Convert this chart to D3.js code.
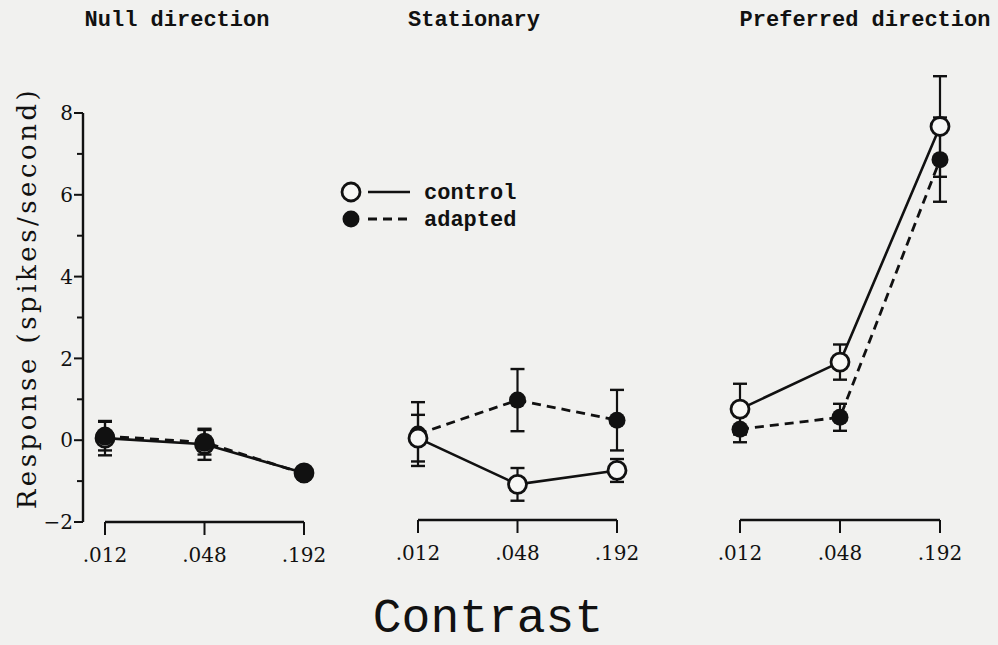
<!DOCTYPE html>
<html lang="en">
<head>
  <meta charset="UTF-8">
  <title>Response vs contrast</title>
  <script src="https://d3js.org/d3.v7.min.js"></script>
  <style>
    body { margin: 0; padding: 0; background: #f1f1ef; }
    svg { display: block; }
  </style>
</head>
<body>
  <svg id="chart" width="998" height="645"></svg>
  <script>
    // ---- data ----
    const contrasts = [0.012, 0.048, 0.192];
    const tickLabels = [".012", ".048", ".192"];
    const panelTitles = ["Null direction", "Stationary", "Preferred direction"];

    // mean response, spikes/second, one row per panel
    const controlMean = [
      [0.05, -0.1, -0.8],
      [0.05, -1.08, -0.74],
      [0.76, 1.91, 7.67]
    ];
    const controlErr = [
      [0.42, 0.38, 0.12],
      [0.57, 0.4, 0.28],
      [0.62, 0.43, 1.23]
    ];
    const adaptedMean = [
      [0.1, -0.05, -0.82],
      [0.15, 0.98, 0.49],
      [0.27, 0.56, 6.86]
    ];
    const adaptedErr = [
      [0.35, 0.3, 0.12],
      [0.78, 0.76, 0.74],
      [0.32, 0.33, 1.03]
    ];

    const svg = d3.select("#chart");
    const ink = "#111";
    const paper = "#f7f7f5";

    // shared y scale
    const y = d3.scaleLinear().domain([-2, 8]).range([522, 113]);

    // one log x scale per panel
    const panelRanges = [[105, 304], [418, 617], [740, 940]];
    const axisY = [522, 520, 520];
    const titleX = [177, 474, 865];

    // y axis
    const yAxis = svg.append("g").attr("transform", "translate(83,0)");
    yAxis.append("line")
      .attr("x1", 0).attr("x2", 0)
      .attr("y1", y(8)).attr("y2", y(-2))
      .attr("stroke", ink).attr("stroke-width", 2.4);
    const yTicks = d3.range(-2, 9);
    yAxis.selectAll(".ytick").data(yTicks).join("line")
      .attr("x1", d => d % 2 === 0 ? -9 : -6).attr("x2", 0)
      .attr("y1", d => y(d)).attr("y2", d => y(d))
      .attr("stroke", ink).attr("stroke-width", 2);
    yAxis.selectAll(".ylab").data(yTicks.filter(d => d % 2 === 0)).join("text")
      .attr("x", -10).attr("y", d => y(d)).attr("dy", "0.36em")
      .attr("text-anchor", "end")
      .attr("font-family", "DejaVu Serif").attr("font-size", 20)
      .attr("fill", ink)
      .text(d => d < 0 ? "\u2212" + Math.abs(d) : d);

    svg.append("text")
      .attr("transform", "translate(36,298) rotate(-90)")
      .attr("text-anchor", "middle")
      .attr("font-family", "DejaVu Serif").attr("font-size", 26)
      .attr("letter-spacing", 3.5)
      .attr("fill", ink)
      .text("Response (spikes/second)");

    panelTitles.forEach((title, p) => {
      const x = d3.scaleLog().domain([0.012, 0.192]).range(panelRanges[p]);
      const g = svg.append("g");

      // x axis: line between end ticks, ticks hanging down
      g.append("line")
        .attr("x1", x(contrasts[0])).attr("x2", x(contrasts[2]))
        .attr("y1", axisY[p]).attr("y2", axisY[p])
        .attr("stroke", ink).attr("stroke-width", 2.4);
      g.selectAll(".xtick").data(contrasts).join("line")
        .attr("x1", d => x(d)).attr("x2", d => x(d))
        .attr("y1", axisY[p]).attr("y2", axisY[p] + 13)
        .attr("stroke", ink).attr("stroke-width", 2);
      g.selectAll(".xlab").data(contrasts).join("text")
        .attr("x", d => x(d)).attr("y", axisY[p] + 40)
        .attr("text-anchor", "middle")
        .attr("font-family", "DejaVu Serif").attr("font-size", 20)
        .attr("fill", ink)
        .text((d, i) => tickLabels[i]);

      // panel title
      g.append("text")
        .attr("x", titleX[p]).attr("y", 26)
        .attr("text-anchor", "middle")
        .attr("font-family", "Liberation Mono").attr("font-weight", "bold")
        .attr("font-size", 22).attr("fill", ink)
        .text(title);

      const ctrl = contrasts.map((c, i) => ({ c, m: controlMean[p][i], e: controlErr[p][i] }));
      const adap = contrasts.map((c, i) => ({ c, m: adaptedMean[p][i], e: adaptedErr[p][i] }));
      const line = d3.line().x(d => x(d.c)).y(d => y(d.m));

      // error bars
      [adap, ctrl].forEach(series => {
        const eb = g.append("g");
        eb.selectAll("line.v").data(series).join("line")
          .attr("x1", d => x(d.c)).attr("x2", d => x(d.c))
          .attr("y1", d => y(d.m - d.e)).attr("y2", d => y(d.m + d.e))
          .attr("stroke", ink).attr("stroke-width", 2.2);
        eb.selectAll("line.t").data(series).join("line")
          .attr("x1", d => x(d.c) - 7).attr("x2", d => x(d.c) + 7)
          .attr("y1", d => y(d.m + d.e)).attr("y2", d => y(d.m + d.e))
          .attr("stroke", ink).attr("stroke-width", 2.4);
        eb.selectAll("line.b").data(series).join("line")
          .attr("x1", d => x(d.c) - 7).attr("x2", d => x(d.c) + 7)
          .attr("y1", d => y(d.m - d.e)).attr("y2", d => y(d.m - d.e))
          .attr("stroke", ink).attr("stroke-width", 2.4);
      });

      // lines
      g.append("path").datum(adap).attr("d", line)
        .attr("fill", "none").attr("stroke", ink).attr("stroke-width", 2.8)
        .attr("stroke-dasharray", "9,6");
      g.append("path").datum(ctrl).attr("d", line)
        .attr("fill", "none").attr("stroke", ink).attr("stroke-width", 2.6);

      // markers (in the null panel the filled dots sit on top)
      const drawOpen = () => g.append("g").selectAll("circle").data(ctrl).join("circle")
        .attr("cx", d => x(d.c)).attr("cy", d => y(d.m)).attr("r", 9)
        .attr("fill", paper).attr("stroke", ink).attr("stroke-width", 2.8);
      const drawFilled = () => g.append("g").selectAll("circle").data(adap).join("circle")
        .attr("cx", d => x(d.c)).attr("cy", d => y(d.m)).attr("r", p === 0 ? 9.5 : 8.5)
        .attr("fill", ink);
      if (p === 0) { drawOpen(); drawFilled(); } else { drawFilled(); drawOpen(); }
    });

    // legend
    const legend = svg.append("g").attr("transform", "translate(351,192)");
    legend.append("circle").attr("cx", 0).attr("cy", 0).attr("r", 9)
      .attr("fill", paper).attr("stroke", ink).attr("stroke-width", 2.8);
    legend.append("line").attr("x1", 17).attr("x2", 59).attr("y1", 0).attr("y2", 0)
      .attr("stroke", ink).attr("stroke-width", 2.6);
    legend.append("circle").attr("cx", 0).attr("cy", 27).attr("r", 8.5).attr("fill", ink);
    legend.append("line").attr("x1", 17).attr("x2", 59).attr("y1", 27).attr("y2", 27)
      .attr("stroke", ink).attr("stroke-width", 2.8).attr("stroke-dasharray", "9,6");
    legend.selectAll("text").data(["control", "adapted"]).join("text")
      .attr("x", 73).attr("y", (d, i) => i * 27).attr("dy", "0.3em")
      .attr("font-family", "Liberation Mono").attr("font-weight", "bold")
      .attr("font-size", 22).attr("fill", ink)
      .text(d => d);

    // shared x label
    svg.append("text")
      .attr("x", 488).attr("y", 632)
      .attr("text-anchor", "middle")
      .attr("font-family", "Liberation Mono").attr("font-size", 48)
      .attr("fill", ink)
      .text("Contrast");
  </script>
</body>
</html>
